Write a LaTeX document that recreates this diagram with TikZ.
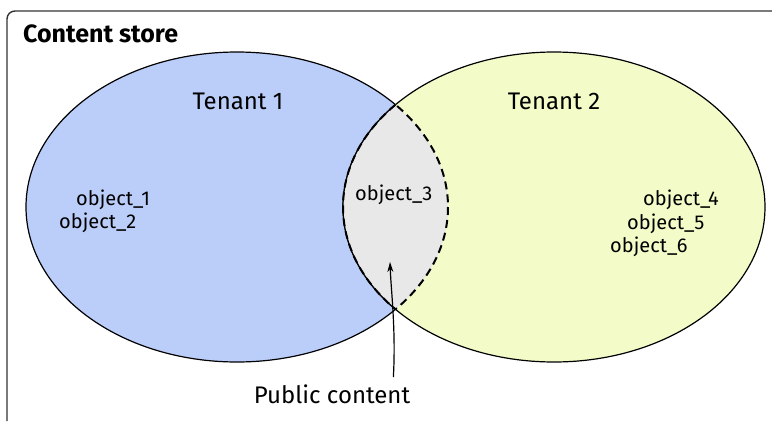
\documentclass[tikz,border=0pt]{standalone}
\usepackage{fontspec}
\setmainfont{Fira Sans}
\usetikzlibrary{arrows.meta,positioning}
\definecolor{tnblue}{RGB}{187,206,250}
\definecolor{tnyellow}{RGB}{243,252,200}
\definecolor{pubgray}{RGB}{232,232,232}
\definecolor{framegray}{RGB}{51,51,51}

\begin{document}
\begin{tikzpicture}[x=1pt,y=-1pt,
    lbl/.style={font=\fontsize{24}{28}\selectfont,inner sep=0pt,anchor=base},
    obj/.style={font=\fontsize{20}{24}\selectfont,inner sep=0pt,anchor=base west},
    venn/.style={x radius=211,y radius=155},
    lensline/.style={dash pattern=on 8pt off 5pt,line width=2pt},
    a/.style={-{Stealth[length=10pt,width=6pt]},line width=1.2pt}]
  \useasboundingbox (0,0) rectangle (772,421);
  \draw[framegray,line width=1.4pt,rounded corners=8pt] (7,421) -- (7,11) -- (772,11);
  \node[font=\bfseries\fontsize{25}{29}\selectfont,anchor=base west,inner sep=0pt] (store) at (23,42) {Content store};
  \filldraw[fill=tnblue,line width=1.2pt] (237,207) ellipse [venn];
  \filldraw[fill=tnyellow,line width=1.2pt] (554,207) ellipse [venn];
  \begin{scope}
    \clip (237,207) ellipse [venn];
    \fill[pubgray] (554,207) ellipse [venn];
    \draw[line width=1.2pt] (554,207) ellipse [venn];
    \draw[lensline] (554,207) ellipse [venn];
  \end{scope}
  \begin{scope}
    \clip (554,207) ellipse [venn];
    \draw[lensline] (237,207) ellipse [venn];
  \end{scope}
  \node[lbl] (t1) at (238,109) {Tenant 1};
  \node[lbl] (t2) at (554,109) {Tenant 2};
  \node[obj] (o1) at (76,205) {object\_1};
  \node[obj] (o2) at (59,228) {object\_2};
  \node[obj] (o3) at (355,200) {object\_3};
  \node[obj] (o4) at (643,205) {object\_4};
  \node[obj] (o5) at (627,229) {object\_5};
  \node[obj] (o6) at (610,252) {object\_6};
  \node[lbl] (pub) at (332,403) {Public content};
  \coordinate (pubtip) at (390,262);
  \draw[a] ([xshift=-17pt,yshift=7pt]pub.north east) .. controls (396,330) and (391,290) .. (pubtip);
\end{tikzpicture}
\end{document}
